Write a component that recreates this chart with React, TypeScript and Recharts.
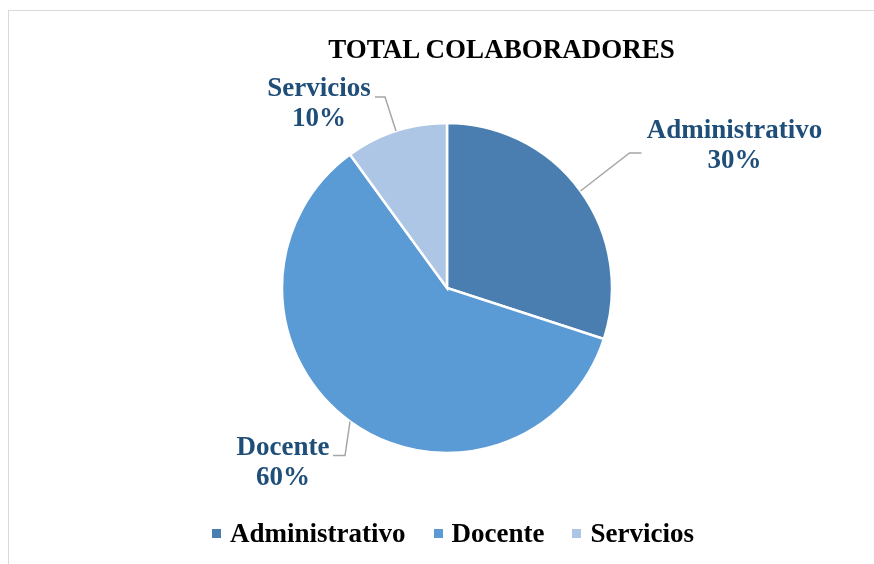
import { PieChart, Pie, Cell, Legend } from 'recharts'

const categories = ['Administrativo', 'Docente', 'Servicios']
const values = [30, 60, 10]
const colors = ['#4a7eb0', '#5b9bd5', '#adc6e6']

const FONT = '"Liberation Serif", "Times New Roman", serif'
const LABEL_COLOR = '#1f4e79'
const RAD = Math.PI / 180

// leader line elbow / tail and text anchor offsets, per slice
const labelLayout: Record<string, { elbow: [number, number]; tail: number; text: [number, number] }> = {
  Administrativo: { elbow: [49, -38], tail: 12, text: [93, -15] },
  Docente: { elbow: [-5, 34], tail: -12, text: [-50, 0] },
  Servicios: { elbow: [-11, -34], tail: -10, text: [-56, -1] },
}

const data = categories.map((name, i) => ({ name, value: values[i] }))

function renderLabel(props: any) {
  const { cx, cy, midAngle, outerRadius, percent } = props
  const name = props.payload?.name ?? props.name
  const lay = labelLayout[name]
  if (!lay) return null
  const x0 = cx + outerRadius * Math.cos(-midAngle * RAD)
  const y0 = cy + outerRadius * Math.sin(-midAngle * RAD)
  const x1 = x0 + lay.elbow[0]
  const y1 = y0 + lay.elbow[1]
  const x2 = x1 + lay.tail
  const tx = x2 + lay.text[0]
  const ty = y1 + lay.text[1]
  return (
    <g>
      <polyline points={`${x0},${y0} ${x1},${y1} ${x2},${y1}`} fill="none" stroke="#a6a6a6" strokeWidth={1.5} />
      <text x={tx} y={ty} textAnchor="middle" fill={LABEL_COLOR} fontFamily={FONT} fontWeight="bold" fontSize={27}>
        <tspan x={tx} dy={0}>{name}</tspan>
        <tspan x={tx} dy={30}>{`${Math.round(percent * 100)}%`}</tspan>
      </text>
    </g>
  )
}

function renderLegend(props: any) {
  const items = props.payload?.length
    ? props.payload.map((p: any) => ({ label: p.value, color: p.color }))
    : categories.map((c, i) => ({ label: c, color: colors[i] }))
  return (
    <div style={{ display: 'flex', alignItems: 'center', whiteSpace: 'nowrap' }}>
      {items.map((it: any, i: number) => (
        <div key={it.label} style={{ display: 'flex', alignItems: 'center', marginLeft: i === 0 ? 0 : 28 }}>
          <span style={{ width: 9, height: 9, background: it.color, marginRight: 9, display: 'inline-block' }} />
          <span style={{ fontFamily: FONT, fontWeight: 'bold', fontSize: 27, lineHeight: '30px', color: '#000' }}>
            {it.label}
          </span>
        </div>
      ))}
    </div>
  )
}

export default function App() {
  return (
    <div style={{ position: 'relative', width: 866, height: 548, overflow: 'hidden', background: '#fff' }}>
      <div
        style={{
          position: 'fixed', left: 8, top: 10, width: 866, height: 554,
          borderTop: '1px solid #d9d9d9', borderLeft: '1px solid #d9d9d9',
        }}
      />
      <div
        style={{
          position: 'absolute', left: 493.5, top: 26, transform: 'translateX(-50%)',
          fontFamily: FONT, fontWeight: 'bold', fontSize: 27, lineHeight: '30px', whiteSpace: 'nowrap', color: '#000',
        }}
      >
        TOTAL COLABORADORES
      </div>
      <div style={{ position: 'absolute', left: 0, top: 0 }}>
        <PieChart width={866} height={548} margin={{ top: 0, right: 0, bottom: 0, left: 0 }}>
          <Pie
            data={data}
            dataKey="value"
            nameKey="name"
            cx={439}
            cy={280}
            outerRadius={165}
            startAngle={90}
            endAngle={-270}
            stroke="#ffffff"
            strokeWidth={2.5}
            label={renderLabel}
            labelLine={false}
            isAnimationActive={false}
          >
            {data.map((d, i) => (
              <Cell key={d.name} fill={colors[i]} />
            ))}
          </Pie>
          <Legend content={renderLegend} wrapperStyle={{ left: 204, top: 510, width: 'auto' }} />
        </PieChart>
      </div>
    </div>
  )
}
